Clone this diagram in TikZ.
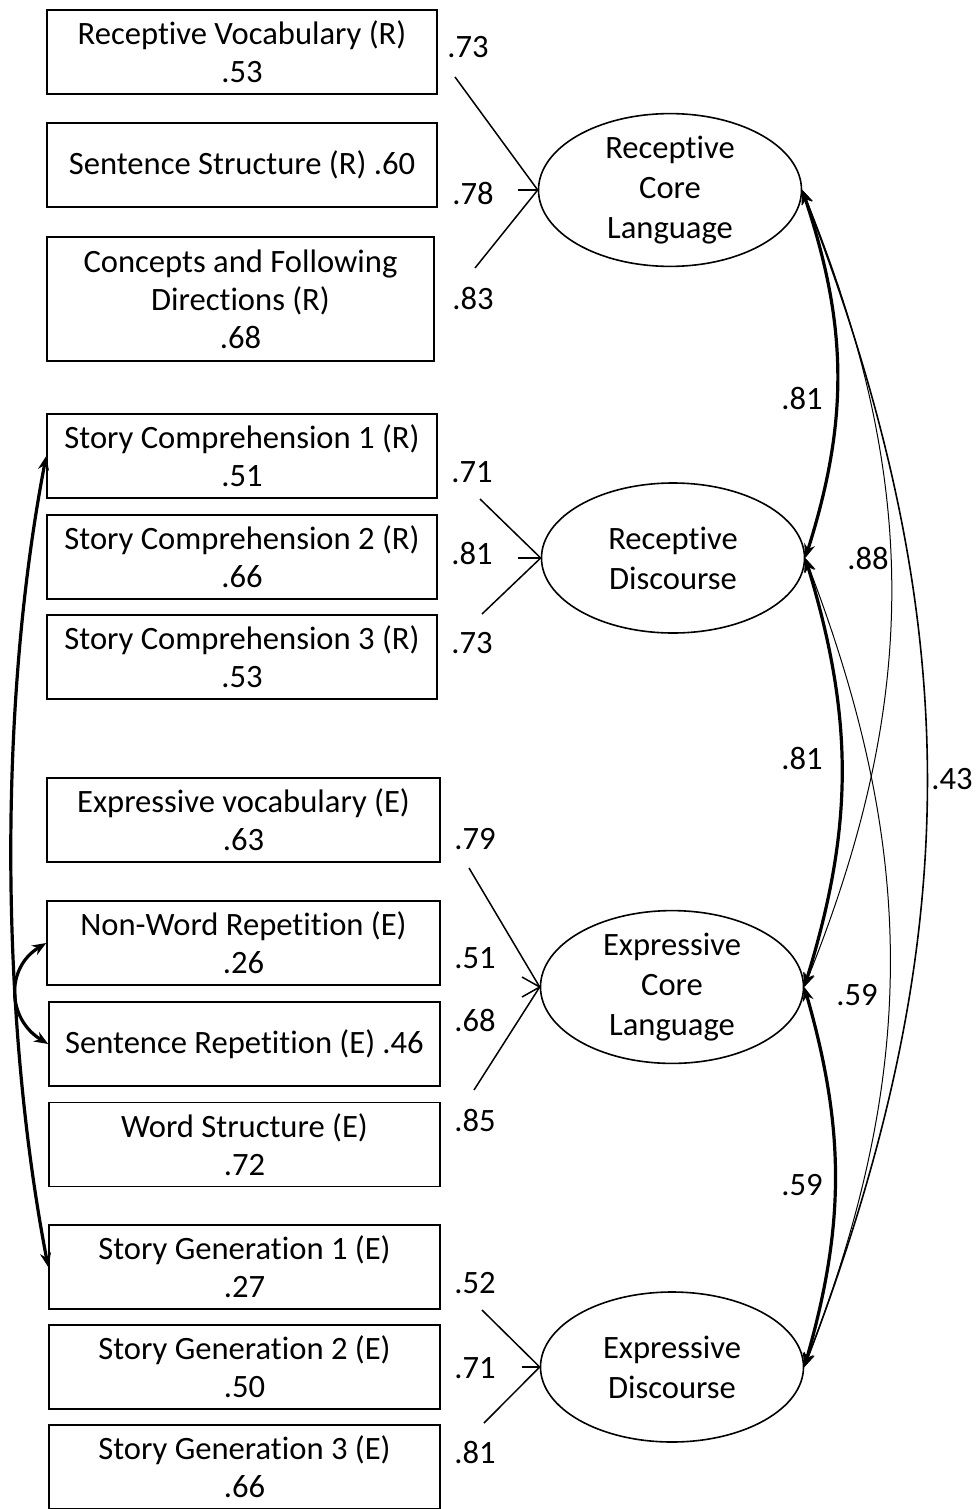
\documentclass[tikz,border=0pt]{standalone}
\usepackage{fontspec}
\setmainfont{Carlito}[Ligatures=NoCommon]
\usetikzlibrary{shapes.geometric,arrows.meta}

\begin{document}
\begin{tikzpicture}[x=0.5pt,y=-0.5pt,>={Stealth[length=7pt,width=5.5pt]},
  every node/.style={font=\fontsize{16.3}{19}\selectfont},
  obs/.style={draw,line width=0.8pt,rectangle,minimum width=195pt,minimum height=42pt,inner sep=0pt,align=center},
  lat/.style={draw,line width=0.8pt,ellipse,minimum width=131.5pt,minimum height=75pt,inner sep=0pt,align=center,
    font=\fontsize{16.3}{20}\selectfont},
  load/.style={line width=0.75pt},
  cov/.style={<->,line width=#1},
  cov/.default=1.6pt]
  \useasboundingbox (0,0) rectangle (978,1509);

  % observed measures
  \node[obs] (rv) at (242,52) {Receptive Vocabulary (R)\\.53};
  \node[obs] (ss) at (242,165) {Sentence Structure (R) .60};
  \node[obs,minimum width=193.5pt,minimum height=62pt] (cf) at (240.5,299) {Concepts and Following\\Directions (R)\\.68};
  \node[obs] (sc1) at (242,456) {Story Comprehension 1 (R)\\.51};
  \node[obs] (sc2) at (242,557) {Story Comprehension 2 (R)\\.66};
  \node[obs] (sc3) at (242,657) {Story Comprehension 3 (R)\\.53};
  \node[obs,minimum width=196.5pt] (ev) at (243.5,820) {Expressive vocabulary (E)\\.63};
  \node[obs,minimum width=196.5pt] (nw) at (243.5,943) {Non-Word Repetition (E)\\.26};
  \node[obs,minimum width=195.5pt] (sr) at (244.5,1044) {Sentence Repetition (E) .46};
  \node[obs,minimum width=195.5pt] (ws) at (244.5,1144.5) {Word Structure (E)\\.72};
  \node[obs,minimum width=195.5pt] (sg1) at (244.5,1267) {Story Generation 1 (E)\\.27};
  \node[obs,minimum width=195.5pt] (sg2) at (244.5,1367) {Story Generation 2 (E)\\.50};
  \node[obs,minimum width=195.5pt] (sg3) at (244.5,1467) {Story Generation 3 (E)\\.66};

  % latent factors
  \node[lat] (rcl) at (670,190) {Receptive\\Core\\Language};
  \node[lat] (rd) at (673,558) {Receptive\\Discourse};
  \node[lat] (ecl) at (672,987) {Expressive\\Core\\Language};
  \node[lat] (ed) at (672,1367) {Expressive\\Discourse};

  % loadings
  \coordinate (rv0) at (455,77);
  \coordinate (ss0) at (518,190);
  \coordinate (cf0) at (475,268);
  \coordinate (sc10) at (480,499);
  \coordinate (sc20) at (518,558);
  \coordinate (sc30) at (482,614);
  \coordinate (ev0) at (469,868);
  \coordinate (nw0a) at (522,977);
  \coordinate (nw0b) at (522,997);
  \coordinate (sr0) at (474,1090);
  \coordinate (sg10) at (482,1310);
  \coordinate (sg20) at (522,1367);
  \coordinate (sg30) at (484,1423);
  \path[load]
    (rv0) edge (rcl.west)
    (ss0) edge (rcl.west)
    (cf0) edge (rcl.west)
    (sc10) edge (rd.west)
    (sc20) edge[line width=1.3pt] (rd.west)
    (sc30) edge (rd.west)
    (ev0) edge (ecl.west)
    (sr0) edge (ecl.west)
    (sg10) edge (ed.west)
    (sg20) edge[line width=1.3pt] (ed.west)
    (sg30) edge (ed.west);
  \draw[load] (nw0a) -- (ecl.west) -- (nw0b);

  \node (l1) at (468,47) {.73};
  \node (l2) at (473,193) {.78};
  \node (l3) at (473,298) {.83};
  \node (l4) at (472,472) {.71};
  \node (l5) at (472,553) {.81};
  \node (l6) at (472,643) {.73};
  \node (l7) at (475,839) {.79};
  \node (l8) at (475,958) {.51};
  \node (l9) at (475,1020) {.68};
  \node (l10) at (475,1120) {.85};
  \node (l11) at (475,1283) {.52};
  \node (l12) at (475,1368) {.71};
  \node (l13) at (475,1452) {.81};

  % correlations
  \path
    (rcl.east) edge[cov,bend left=18] (rd.east)
    (rd.east) edge[cov,bend left=17] (ecl.east)
    (ecl.east) edge[cov,bend left=16] (ed.east)
    (rcl.east) edge[cov=0.5pt,bend left=22] (ecl.east)
    (rd.east) edge[cov=0.5pt,bend left=21] (ed.east)
    (rcl.east) edge[cov=0.8pt,bend left=21] (ed.east);
  \draw[cov] (sc1.west) .. controls +(-48,250) and +(-48,-250) .. (sg1.west);
  \draw[cov] (nw.west) .. controls +(-41,25) and +(-41,-25) .. (sr.west);

  \node (c1) at (802,398) {.81};
  \node (c2) at (868,558) {.88};
  \node (c3) at (802,758) {.81};
  \node (c4) at (952,779) {.43};
  \node (c5) at (857,995) {.59};
  \node (c6) at (802,1185) {.59};
\end{tikzpicture}
\end{document}
